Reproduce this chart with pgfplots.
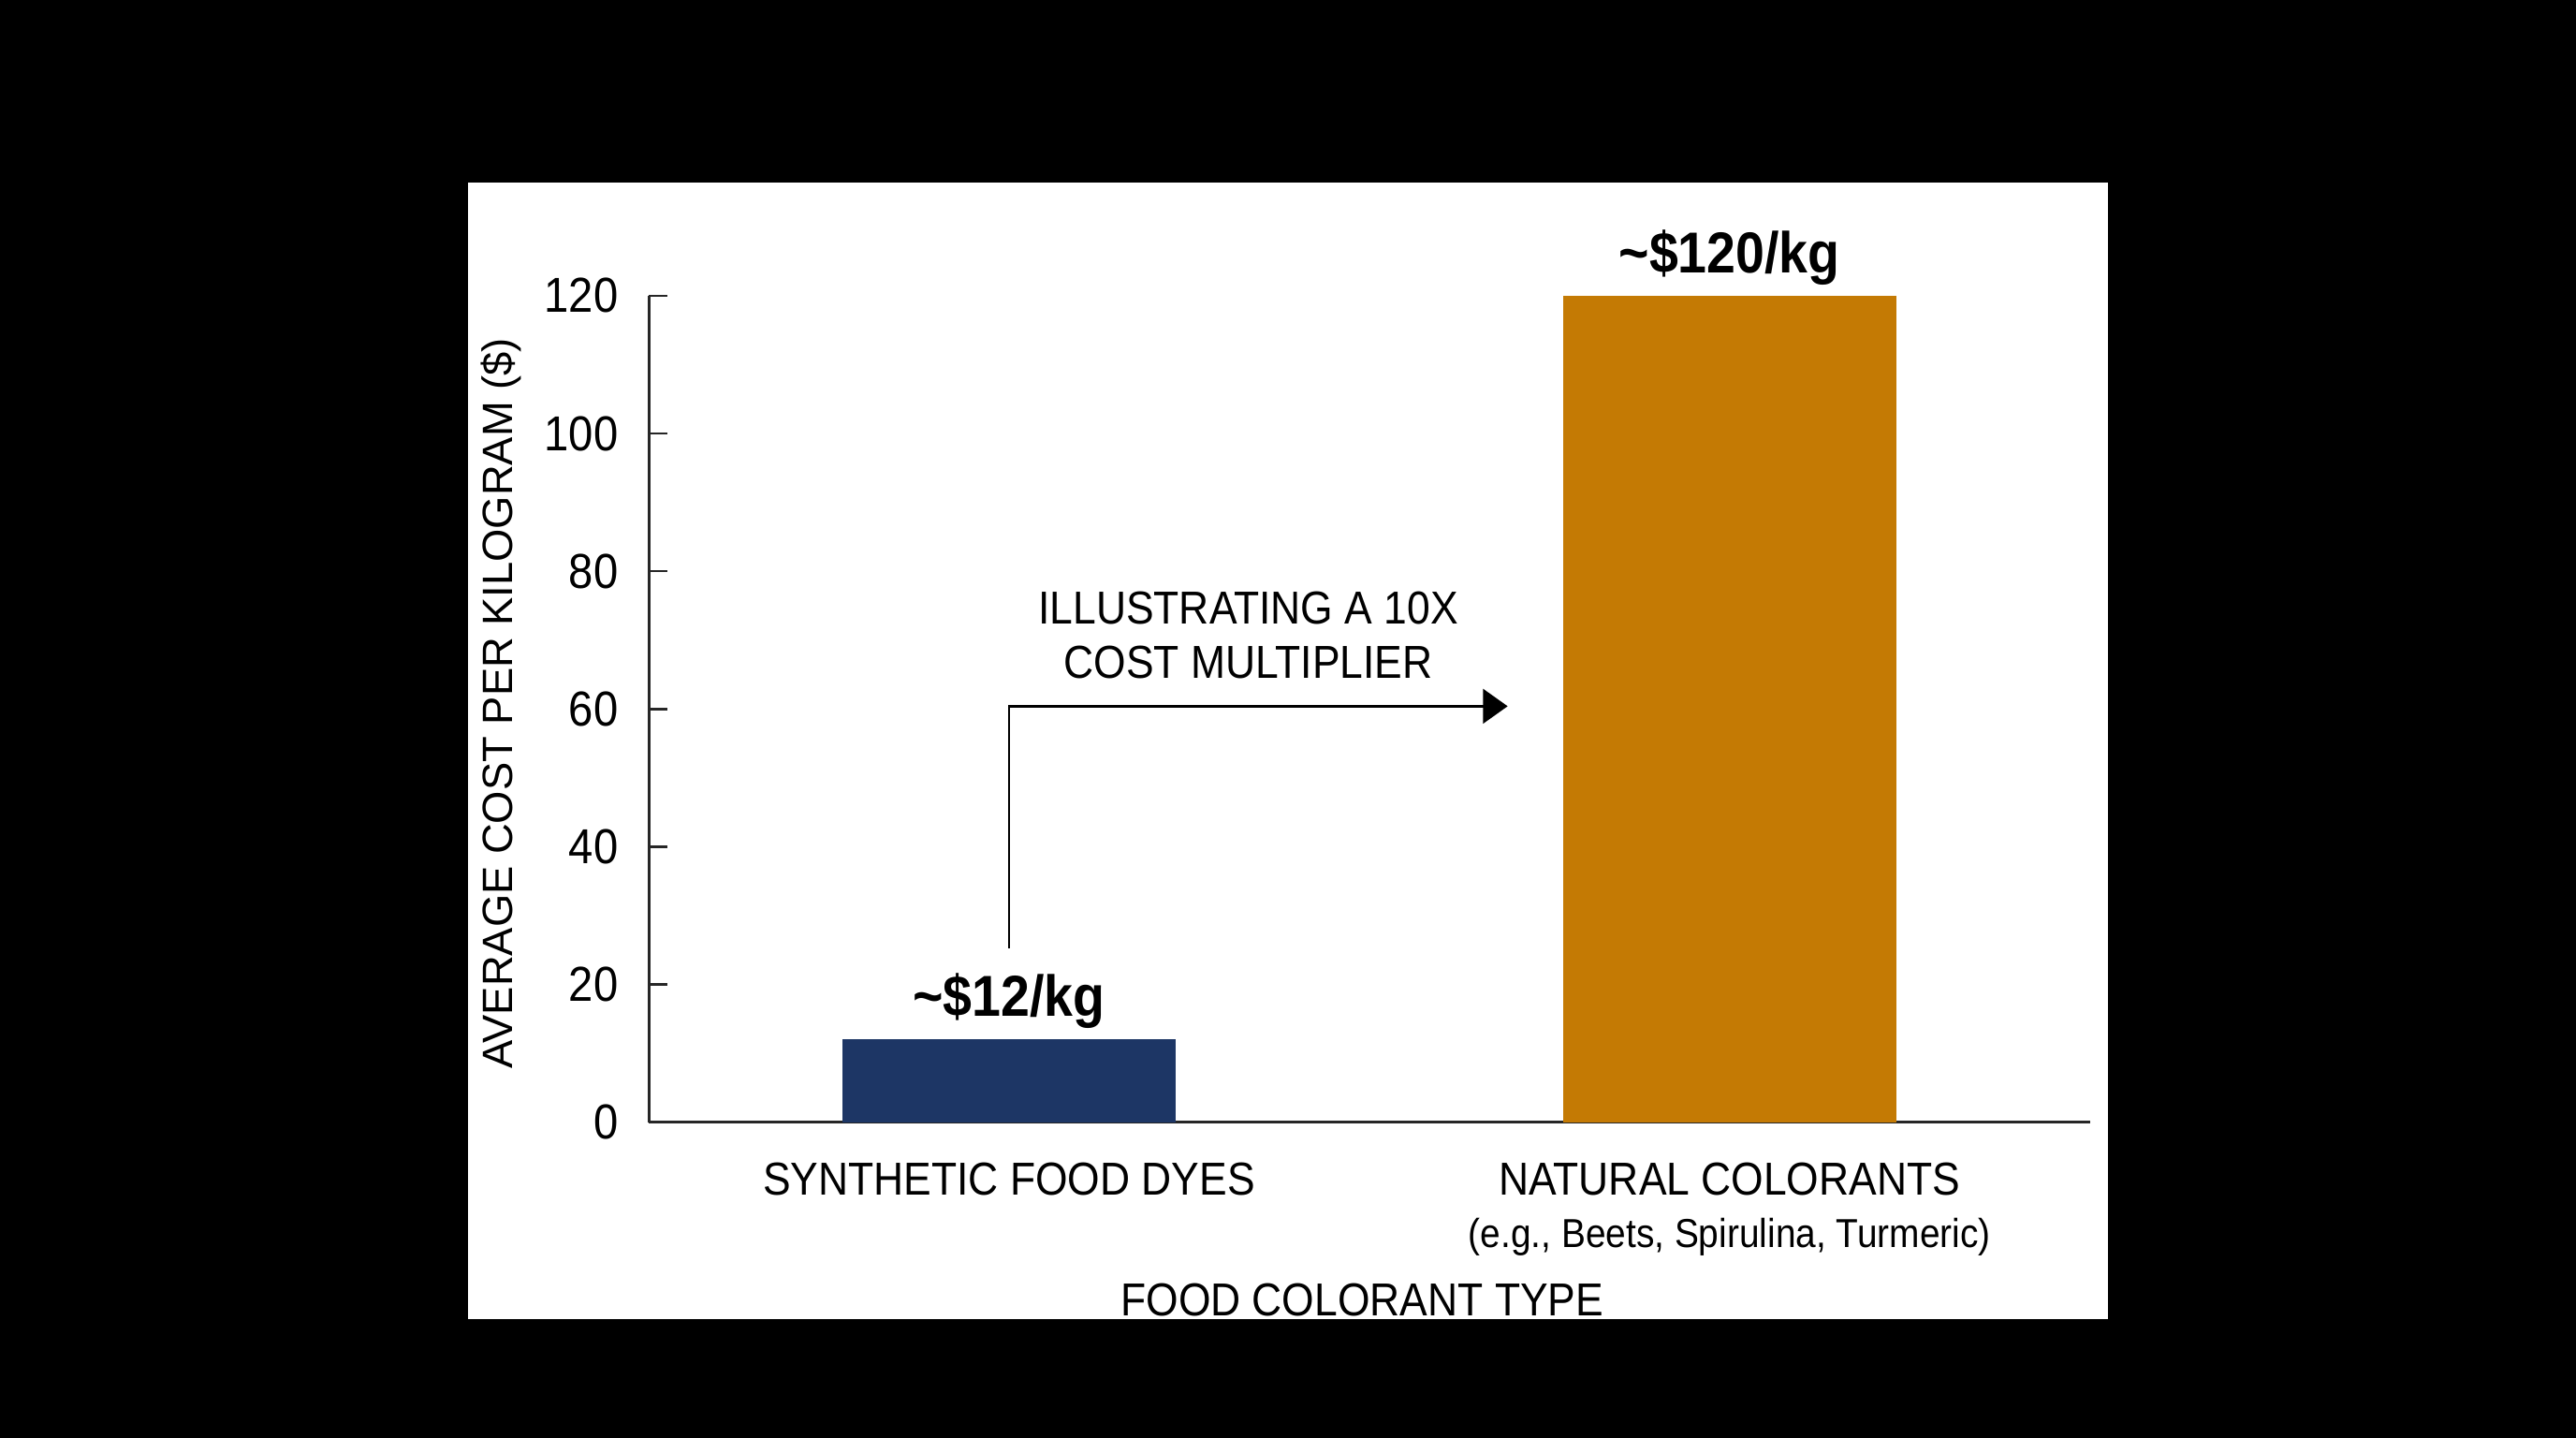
\documentclass[border=0pt]{standalone}
\usepackage{fontspec}
\setmainfont{Liberation Sans}
\newfontfamily\cond[FakeStretch=0.9]{Liberation Sans}
\usepackage{pgfplots}
\pgfplotsset{compat=1.18}
\usetikzlibrary{arrows.meta}
\definecolor{navybar}{HTML}{1D3665}
\definecolor{ochrebar}{HTML}{C47A04}
\begin{document}
\begin{tikzpicture}
\fill[black] (0,0) rectangle (31.36cm,17.5cm);
\fill[white] (5.70cm,1.44cm) rectangle (25.66cm,15.28cm);
\begin{axis}[
  at={(7.90cm,3.84cm)}, anchor=south west,
  scale only axis, width=17.54cm, height=10.06cm,
  xmin=-0.5, xmax=1.5, ymin=0, ymax=120,
  axis lines=left,
  axis line style={-, line width=0.8pt, black!85},
  every tick/.style={line width=0.8pt, black!85},
  tick align=inside,
  major tick length=0.22cm,
  ytick={0,20,...,120},
  xtick={0,1},
  xtick style={draw=none},
  xticklabels={SYNTHETIC FOOD DYES, {NATURAL COLORANTS\\{\fontsize{14}{17}\selectfont (e.g., Beets, Spirulina, Turmeric)}}},
  xticklabel style={font=\cond\fontsize{16}{18}\selectfont, align=center, anchor=north, yshift=-0.37cm},
  yticklabel style={font=\cond\fontsize{17}{20}\selectfont, xshift=-0.25cm},
  /pgf/number format/assume math mode=true,
  ylabel={AVERAGE COST PER KILOGRAM (\$)},
  ylabel style={font=\fontsize{14.7}{17}\selectfont, at={(axis description cs:-0.1026,0.507)}, anchor=center},
  xlabel={FOOD COLORANT TYPE},
  xlabel style={font=\cond\fontsize{16}{19}\selectfont, at={(axis description cs:0.495,-0.2147)}, anchor=center},
  clip=false,
]
\addplot[ybar, bar width=0.463, fill=navybar, draw=none,
  nodes near coords={\textasciitilde\$12/kg},
  nodes near coords style={font=\cond\bfseries\fontsize{20}{24}\selectfont, anchor=center, yshift=0.47cm, text=black}]
  coordinates {(0,12)};
\addplot[ybar, bar width=0.463, fill=ochrebar, draw=none,
  nodes near coords={\textasciitilde\$120/kg},
  nodes near coords style={font=\cond\bfseries\fontsize{20}{24}\selectfont, anchor=center, yshift=0.47cm, text=black}]
  coordinates {(1,120)};
\addplot[black, line width=0.8pt, -{Triangle[length=0.3cm, width=0.42cm]}]
  coordinates {(0,25.3) (0,60.4) (0.692,60.4)};
\node[align=center, font=\cond\fontsize{16}{18.8}\selectfont] at (axis cs:0.332,70.7) {ILLUSTRATING A 10X\\COST MULTIPLIER};
\end{axis}
\end{tikzpicture}
\end{document}
